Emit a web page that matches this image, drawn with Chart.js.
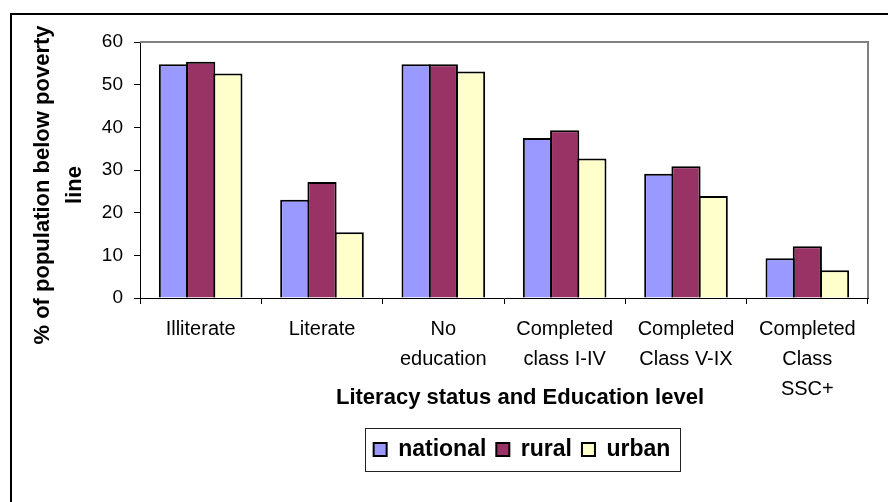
<!DOCTYPE html>
<html>
<head>
<meta charset="utf-8">
<title>Poverty by literacy status and education level</title>
<script src="https://cdn.jsdelivr.net/npm/chart.js@4.4.1/dist/chart.umd.min.js"></script>
<style>
    html, body { margin: 0; padding: 0; background: #fff; }
    #wrap { width: 888px; height: 502px; }
</style>
</head>
<body>
<div id="wrap"><canvas id="poverty-chart"></canvas></div>
<script>
// Categories and values (% of population below poverty line)
const categories = [
    'Illiterate',
    'Literate',
    ['No', 'education'],
    ['Completed', 'class I-IV'],
    ['Completed', 'Class V-IX'],
    ['Completed', 'Class', 'SSC+']
];
const nationalValues = [54.8, 23.0, 54.8, 37.5, 29.1, 9.3];
const ruralValues = [55.4, 27.2, 54.8, 39.3, 30.9, 12.1];
const urbanValues = [52.6, 15.4, 53.1, 32.7, 23.9, 6.5];
const yTicks = [0, 10, 20, 30, 40, 50, 60];
const yTitle = ['% of population below poverty', 'line'];
const xTitle = 'Literacy status and Education level';

const FONT = '"Liberation Sans", Arial, sans-serif';
Chart.defaults.font.family = FONT;
Chart.defaults.color = '#000';

// Frames, axis titles and the boxed legend
const chartDecor = {
    id: 'chartDecor',
    afterLayout(chart) {
        // move the legend so it sits under the middle of the plot
        const lg = chart.legend;
        const dx = 522 - (lg.left + lg.right) / 2;
        lg.left += dx;
        lg.right += dx;
    },
    beforeDraw(chart) {
        const ctx = chart.ctx;
        ctx.save();
        ctx.fillStyle = '#fff';
        ctx.fillRect(0, 0, chart.width, chart.height);
        ctx.strokeStyle = '#000';
        ctx.lineWidth = 2;
        ctx.strokeRect(11, 14, chart.width + 20, chart.height + 20);
        ctx.restore();
    },
    afterDraw(chart) {
        const ctx = chart.ctx;
        const area = chart.chartArea;
        ctx.save();

        // gray plot area border on top and right
        ctx.strokeStyle = '#808080';
        ctx.lineWidth = 2;
        ctx.beginPath();
        ctx.moveTo(area.left, area.top);
        ctx.lineTo(area.right, area.top);
        ctx.lineTo(area.right, area.bottom);
        ctx.stroke();

        // box around legend items
        const lg = chart.legend;
        const hb = lg.legendHitBoxes;
        if (hb && hb.length) {
            const last = hb[hb.length - 1];
            const l = Math.round(hb[0].left - 9) + 0.5;
            const r = Math.round(last.left + last.width + 10) + 0.5;
            const t = Math.round(lg.top) + 0.5;
            const b = Math.round(lg.bottom) + 0.5;
            ctx.strokeStyle = '#222';
            ctx.lineWidth = 1;
            ctx.strokeRect(l, t, r - l, b - t);
        }

        // axis titles
        ctx.fillStyle = '#000';
        ctx.font = 'bold 22px ' + FONT;
        ctx.textAlign = 'center';
        ctx.textBaseline = 'alphabetic';
        ctx.fillText(xTitle, (area.left + area.right) / 2 + 16, 404);
        ctx.translate(0, (area.top + area.bottom) / 2 + 15);
        ctx.rotate(-Math.PI / 2);
        ctx.fillText(yTitle[0], 0, 49);
        ctx.fillText(yTitle[1], 0, 81);
        ctx.restore();
    }
};

function barSet(label, data, color) {
    return {
        label: label,
        data: data,
        backgroundColor: color,
        borderColor: '#000',
        borderWidth: 2,
        categoryPercentage: 0.673,
        barPercentage: 1.073
    };
}

const ctx = document.getElementById('poverty-chart').getContext('2d');
new Chart(ctx, {
    type: 'bar',
    data: {
        labels: categories,
        datasets: [
            barSet('national', nationalValues, '#9999FF'),
            barSet('rural', ruralValues, '#993366'),
            barSet('urban', urbanValues, '#FFFFCC')
        ]
    },
    plugins: [chartDecor],
    options: {
        responsive: true,
        maintainAspectRatio: false,
        animation: false,
        layout: { padding: { top: 42, right: 20, bottom: 31, left: 0 } },
        plugins: {
            legend: {
                position: 'bottom',
                labels: {
                    boxWidth: 13,
                    boxHeight: 13,
                    padding: 10,
                    color: '#000',
                    font: { size: 23, weight: 'bold' }
                }
            },
            tooltip: { enabled: false }
        },
        scales: {
            x: {
                grid: { offset: true, drawOnChartArea: false, tickLength: 6, color: '#000' },
                border: { color: '#000', width: 1 },
                ticks: {
                    color: '#000',
                    padding: 10,
                    maxRotation: 0,
                    autoSkip: false,
                    font: { size: 20, lineHeight: 1.5 }
                },
                afterFit(scale) { scale.height = 130; }
            },
            y: {
                min: 0,
                max: 60,
                afterBuildTicks(scale) {
                    scale.ticks = yTicks.map(v => ({ value: v }));
                },
                grid: { drawOnChartArea: false, tickLength: 6, color: '#000' },
                border: { color: '#000', width: 1 },
                ticks: { color: '#000', padding: 11, font: { size: 19 } },
                afterFit(scale) { scale.width = 140; }
            }
        }
    }
});
</script>
</body>
</html>
